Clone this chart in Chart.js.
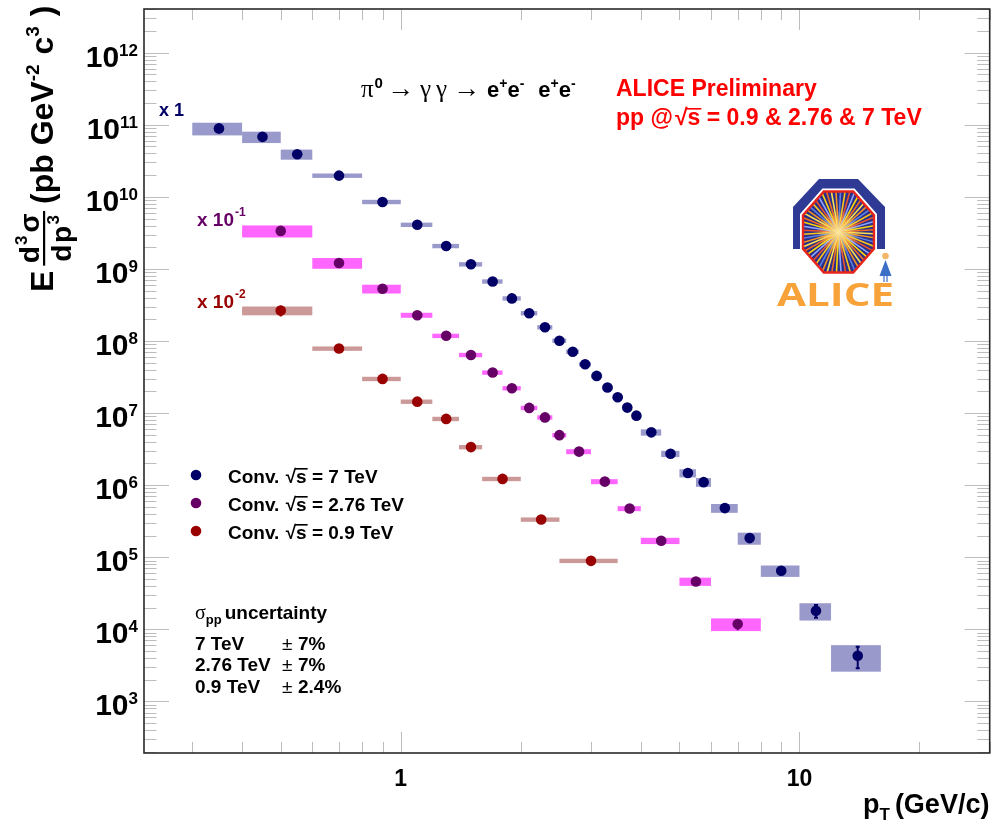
<!DOCTYPE html>
<html><head><meta charset="utf-8">
<script src="https://cdn.jsdelivr.net/npm/chart.js@4.4.1/dist/chart.umd.min.js"></script>
<style>html,body{margin:0;padding:0;background:#fff;}canvas{display:block;}</style>
</head><body>
<canvas id="c" width="995" height="827" style="width:995px;height:827px"></canvas>
<script>
// ---------------- data (values as plotted, i.e. already scaled) ----------------
const xMin = 0.227, xMax = 30, yMin = 192, yMax = 4.04e12;
const yTickExponents = [3,4,5,6,7,8,9,10,11,12];
const xTickValues = [1, 10];
const xTickLabels = ['1', '10'];

// pi0, pp 7 TeV (x 1)
const pt7Lo = [0.3,0.4,0.5,0.6,0.8,1.0,1.2,1.4,1.6,1.8,2.0,2.2,2.4,2.6,2.8,3.0,3.2,3.4,3.6,3.8,4.0,4.5,5.0,5.5,6.0,7.0,8.0,10.0,12.0];
const pt7Hi = [0.4,0.5,0.6,0.8,1.0,1.2,1.4,1.6,1.8,2.0,2.2,2.4,2.6,2.8,3.0,3.2,3.4,3.6,3.8,4.0,4.5,5.0,5.5,6.0,7.0,8.0,10.0,12.0,16.0];
const pt7   = [0.35,0.45,0.55,0.7,0.9,1.1,1.3,1.5,1.7,1.9,2.1,2.3,2.5,2.7,2.9,3.1,3.3,3.5,3.7,3.9,4.25,4.75,5.25,5.75,6.5,7.5,9.0,11.0,14.0];
const xs7   = [8.9e10,6.8e10,3.9e10,1.97e10,8.5e9,4.1e9,2.08e9,1.16e9,6.7e8,3.9e8,2.43e8,1.55e8,1.01e8,7.1e7,4.76e7,3.28e7,2.26e7,1.66e7,1.19e7,9.2e6,5.4e6,2.72e6,1.47e6,1.10e6,4.8e5,1.84e5,6.5e4,1.81e4,4.3e3];
const sys7  = [0.20,0.18,0.16,0.07,0.07,0.07,0.07,0.07,0.07,0.07,0.07,0.07,0.07,0.07,0.07,0.07,0.07,0.07,0.07,0.07,0.10,0.10,0.13,0.14,0.14,0.19,0.18,0.27,0.40];
const stat7 = [0.15,0.10,0.04,0.02,0.02,0.02,0.02,0.02,0.02,0.02,0.02,0.02,0.02,0.02,0.02,0.02,0.02,0.02,0.03,0.03,0.03,0.04,0.05,0.05,0.06,0.07,0.09,0.20,0.33];

// pi0, pp 2.76 TeV (x 10^-1)
const pt276Lo = [0.4,0.6,0.8,1.0,1.2,1.4,1.6,1.8,2.0,2.2,2.4,2.6,3.0,3.5,4.0,5.0,6.0];
const pt276Hi = [0.6,0.8,1.0,1.2,1.4,1.6,1.8,2.0,2.2,2.4,2.6,3.0,3.5,4.0,5.0,6.0,8.0];
const pt276   = [0.5,0.7,0.9,1.1,1.3,1.5,1.7,1.9,2.1,2.3,2.5,2.8,3.25,3.75,4.5,5.5,7.0];
const xs276   = [3.37e9,1.21e9,5.3e8,2.28e8,1.18e8,6.4e7,3.65e7,2.21e7,1.18e7,8.7e6,4.94e6,2.92e6,1.12e6,4.73e5,1.69e5,4.6e4,1.18e4];
const sys276  = [0.19,0.17,0.14,0.08,0.07,0.07,0.07,0.07,0.07,0.07,0.07,0.08,0.08,0.08,0.10,0.13,0.20];
const stat276 = [0.08,0.04,0.03,0.02,0.02,0.02,0.02,0.02,0.03,0.03,0.03,0.03,0.04,0.05,0.06,0.08,0.18];

// pi0, pp 0.9 TeV (x 10^-2)
const pt09Lo = [0.4,0.6,0.8,1.0,1.2,1.4,1.6,2.0,2.5];
const pt09Hi = [0.6,0.8,1.0,1.2,1.4,1.6,2.0,2.5,3.5];
const pt09   = [0.5,0.7,0.9,1.1,1.3,1.5,1.8,2.25,3.0];
const xs09   = [2.64e8,7.85e7,2.98e7,1.44e7,8.3e6,3.37e6,1.22e6,3.33e5,8.9e4];
const sys09  = [0.14,0.07,0.07,0.07,0.07,0.07,0.07,0.07,0.07];
const stat09 = [0.17,0.05,0.04,0.04,0.04,0.05,0.05,0.06,0.08];

const seriesNames  = ['Conv. \u221As = 7 TeV', 'Conv. \u221As = 2.76 TeV', 'Conv. \u221As = 0.9 TeV'];
const markerColors = ['#000066', '#660066', '#990000'];
const boxColors    = ['#9999CC', '#FF66FF', '#CC9999'];

const series = [
  {x: pt7,   y: xs7,   lo: pt7Lo,   hi: pt7Hi,   sys: sys7,   stat: stat7},
  {x: pt276, y: xs276, lo: pt276Lo, hi: pt276Hi, sys: sys276, stat: stat276},
  {x: pt09,  y: xs09,  lo: pt09Lo,  hi: pt09Hi,  sys: sys09,  stat: stat09}
];

// ---------------- helpers ----------------
const SANS = '"Liberation Sans", Arial, Helvetica, sans-serif';
const SERIF = '"Liberation Serif", "DejaVu Serif", serif';
const F = (w, s, fam) => `${w} ${s}px ${fam || SANS}`;

// draws a list of runs: [text, font, dy, extraAdvance, overline]
function runs(ctx, x, y, parts) {
  let cx = x;
  for (const p of parts) {
    ctx.font = p[1];
    ctx.fillText(p[0], cx, y + (p[2] || 0));
    const w = ctx.measureText(p[0]).width;
    if (p[4]) { // overline (sqrt bar)
      ctx.fillRect(cx - 1, y + (p[2] || 0) - p[4], w + 2, 1.6);
    }
    cx += w + (p[3] || 0);
  }
  return cx;
}

const rootPlugin = {
  id: 'rootStyle',
  beforeDatasetsDraw(chart) {
    const ctx = chart.ctx, xs = chart.scales.x, ys = chart.scales.y, a = chart.chartArea;
    ctx.save();
    ctx.beginPath(); ctx.rect(a.left, a.top, a.right - a.left, a.bottom - a.top); ctx.clip();
    // systematic boxes
    series.forEach((s, k) => {
      ctx.fillStyle = boxColors[k];
      s.x.forEach((xv, i) => {
        const x1 = xs.getPixelForValue(s.lo[i]), x2 = xs.getPixelForValue(s.hi[i]);
        const y1 = ys.getPixelForValue(s.y[i] * (1 + s.sys[i])), y2 = ys.getPixelForValue(s.y[i] * (1 - s.sys[i]));
        ctx.fillRect(x1, y1, x2 - x1, y2 - y1);
      });
    });
    // statistical error bars
    series.forEach((s, k) => {
      ctx.strokeStyle = markerColors[k]; ctx.lineWidth = 2;
      s.x.forEach((xv, i) => {
        const px = xs.getPixelForValue(xv);
        const y1 = ys.getPixelForValue(s.y[i] * (1 + s.stat[i])), y2 = ys.getPixelForValue(s.y[i] * (1 - s.stat[i]));
        ctx.beginPath(); ctx.moveTo(px, y1); ctx.lineTo(px, y2); ctx.stroke();
        if (s.stat[i] > 0.19) {
          ctx.beginPath(); ctx.moveTo(px - 2, y1); ctx.lineTo(px + 2, y1); ctx.moveTo(px - 2, y2); ctx.lineTo(px + 2, y2); ctx.stroke();
        }
      });
    });
    ctx.restore();
  },
  afterDraw(chart) {
    const ctx = chart.ctx, xs = chart.scales.x, ys = chart.scales.y, a = chart.chartArea;
    ctx.save();
    // ticks
    ctx.strokeStyle = '#bdbdbd'; ctx.lineWidth = 1;
    ctx.beginPath();
    for (let n = 2; n <= 12; n++) for (let k = 1; k <= 9; k++) {
      const v = k * Math.pow(10, n); if (v < yMin || v > yMax) continue;
      const py = Math.round(ys.getPixelForValue(v)) + 0.5, len = k === 1 ? 25 : 12.5;
      ctx.moveTo(a.left, py); ctx.lineTo(a.left + len, py);
      ctx.moveTo(a.right, py); ctx.lineTo(a.right - len, py);
    }
    for (let n = -1; n <= 1; n++) for (let k = 1; k <= 9; k++) {
      const v = k * Math.pow(10, n); if (v < xMin || v > xMax) continue;
      const px = Math.round(xs.getPixelForValue(v)) + 0.5, len = k === 1 ? 21 : 11;
      ctx.moveTo(px, a.bottom); ctx.lineTo(px, a.bottom - len);
      ctx.moveTo(px, a.top); ctx.lineTo(px, a.top + len);
    }
    ctx.stroke();
    // frame
    ctx.strokeStyle = '#2a2a2a'; ctx.lineWidth = 1.6;
    ctx.strokeRect(a.left, a.top, a.right - a.left, a.bottom - a.top);

    ctx.fillStyle = '#000'; ctx.textBaseline = 'alphabetic';
    // y tick labels
    yTickExponents.forEach(e => {
      const py = ys.getPixelForValue(Math.pow(10, e));
      ctx.font = F('bold', 17); const we = ctx.measureText(String(e)).width;
      ctx.font = F('bold', 30); const wb = ctx.measureText('10').width;
      const right = 138, base = py + 14;
      ctx.textAlign = 'left';
      ctx.fillText('10', right - we - wb, base);
      ctx.font = F('bold', 17); ctx.fillText(String(e), right - we, base - 11);
    });
    // x tick labels
    ctx.font = F('bold', 23); ctx.textAlign = 'center';
    xTickValues.forEach((v, i) => ctx.fillText(xTickLabels[i], xs.getPixelForValue(v), 786));
    ctx.textAlign = 'left';

    // x title
    runs(ctx, 863, 813, [['p', F('bold', 27)], ['T', F('bold', 17), 7, 5], ['(GeV/c)', F('bold', 27)]]);

    // y title (rotated)
    ctx.save();
    ctx.translate(53, 292); ctx.rotate(-Math.PI / 2);
    let u = 0;
    ctx.font = F('bold', 32); ctx.fillText('E', u, 0); u += ctx.measureText('E').width + 5;
    const fN = F('bold', 28), fS = F('bold', 17);
    ctx.font = fN; const wd = ctx.measureText('d').width, wsg = ctx.measureText('\u03C3').width, wp = ctx.measureText('p').width;
    ctx.font = fS; const w3 = ctx.measureText('3').width;
    const numW = wd + w3 + wsg + 4, denW = wd + wp + w3 + 3, fw = Math.max(numW, denW) + 5;
    runs(ctx, u + (fw - numW) / 2, -14, [['d', fN, 0, 1], ['3', fS, -12, 3], ['\u03C3', fN]]);
    runs(ctx, u + (fw - denW) / 2, 18, [['d', fN, 0, 1.5], ['p', fN, 0, 1.5], ['3', fS, -12]]);
    ctx.fillRect(u, -10, fw, 2.2);
    u += fw + 7;
    runs(ctx, u, 0, [['(pb GeV', F('bold', 32)], ['-2', F('bold', 19), -14, 1], [' c', F('bold', 32)], ['3', F('bold', 19), -14, 1], [' )', F('bold', 32)]]);
    ctx.restore();

    // scale factor labels
    ctx.fillStyle = '#000066'; runs(ctx, 159, 116, [['x 1', F('bold', 18)]]);
    ctx.fillStyle = '#660066'; runs(ctx, 197, 226, [['x 10', F('bold', 19), 0, 1], ['-1', F('bold', 12), -10]]);
    ctx.fillStyle = '#990000'; runs(ctx, 197, 308, [['x 10', F('bold', 19), 0, 1], ['-2', F('bold', 12), -10]]);

    // decay channel
    ctx.fillStyle = '#000';
    runs(ctx, 361, 97, [
      ['\u03C0', F('normal', 25, SERIF), 0, 1], ['0', F('bold', 15), -9, 4],
      ['\u2192', F('normal', 27, SERIF), 0, 6], ['\u03B3', F('normal', 25, SERIF), 0, 5], ['\u03B3', F('normal', 25, SERIF), 0, 6],
      ['\u2192', F('normal', 27, SERIF), 0, 7],
      ['e', F('bold', 22)], ['+', F('bold', 14), -9], ['e', F('bold', 22)], ['-', F('bold', 14), -9, 14],
      ['e', F('bold', 22)], ['+', F('bold', 14), -9], ['e', F('bold', 22)], ['-', F('bold', 14), -9]
    ]);
    // ALICE preliminary
    ctx.fillStyle = '#FF0000';
    runs(ctx, 616, 96, [['ALICE Preliminary', F('bold', 23)]]);
    runs(ctx, 616, 125, [['pp @', F('bold', 23), 0, 2], ['\u221A', F('bold', 23), 0, 0], ['s', F('bold', 23), 0, 0, 17], [' = 0.9 & 2.76 & 7 TeV', F('bold', 23)]]);

    // legend
    const legY = [475, 503, 531];
    series.forEach((s, k) => {
      ctx.fillStyle = markerColors[k];
      ctx.beginPath(); ctx.arc(196, legY[k], 5.3, 0, 2 * Math.PI); ctx.fill();
      ctx.fillStyle = '#000';
      const parts = seriesNames[k].split('\u221As');
      runs(ctx, 228, legY[k] + 8, [[parts[0], F('bold', 19), 0, 1], ['\u221A', F('bold', 19)], ['s', F('bold', 19), 0, 0, 15], [parts[1], F('bold', 19)]]);
    });

    // sigma_pp uncertainty
    ctx.fillStyle = '#000';
    runs(ctx, 195, 619, [['\u03C3', F('normal', 20, SERIF)], ['pp', F('bold', 13), 5, 3], ['uncertainty', F('bold', 19)]]);
    const uncLabels = ['7 TeV', '2.76 TeV', '0.9 TeV'], uncVals = ['7%', '7%', '2.4%'], uncY = [650, 671, 693];
    uncLabels.forEach((t, i) => {
      runs(ctx, 195, uncY[i], [[t, F('bold', 19)]]);
      runs(ctx, 282, uncY[i], [['\u00B1', F('normal', 19)]]);
      runs(ctx, 298, uncY[i], [[uncVals[i], F('bold', 19)]]);
    });

    drawLogo(ctx);
    ctx.restore();
  }
};

function drawLogo(ctx) {
  ctx.save();
  // outer navy frame
  ctx.fillStyle = '#2E3A94';
  ctx.beginPath();
  ctx.moveTo(793, 249); ctx.lineTo(793, 207); ctx.lineTo(819, 179); ctx.lineTo(858, 179);
  ctx.lineTo(885, 207); ctx.lineTo(885, 249); ctx.closePath(); ctx.fill();
  // octagon
  const cx = 838.5, cy = 232, c = Math.cos(Math.PI / 8), Rx = 35.5 / c, Ry = 40.5 / c;
  const oct = () => {
    ctx.beginPath();
    for (let k = 0; k < 8; k++) {
      const ang = Math.PI / 8 + k * Math.PI / 4;
      const px = cx + Rx * Math.cos(ang), py = cy + Ry * Math.sin(ang);
      k ? ctx.lineTo(px, py) : ctx.moveTo(px, py);
    }
    ctx.closePath();
  };
  oct(); ctx.strokeStyle = '#ffffff'; ctx.lineWidth = 6; ctx.stroke();
  oct(); ctx.fillStyle = '#2a2f8a'; ctx.fill();
  ctx.save(); oct(); ctx.clip();
  const rayCols = ['#FFE14D', '#F7941D', '#5B7FE0', '#FFC61A', '#E9532B', '#8FA8FF', '#FFD700', '#F26B21'];
  for (let i = 0; i < 56; i++) {
    const ang = i * 2 * Math.PI / 56 + 0.05;
    ctx.strokeStyle = rayCols[i % rayCols.length]; ctx.lineWidth = 1.6;
    ctx.beginPath(); ctx.moveTo(cx, cy); ctx.lineTo(cx + 60 * Math.cos(ang), cy + 60 * Math.sin(ang)); ctx.stroke();
  }
  const g = ctx.createRadialGradient(cx, cy, 0, cx, cy, 22);
  g.addColorStop(0, 'rgba(255,240,170,0.95)'); g.addColorStop(1, 'rgba(255,200,80,0)');
  ctx.fillStyle = g; ctx.fillRect(cx - 40, cy - 45, 80, 90);
  ctx.restore();
  oct(); ctx.strokeStyle = '#E8231B'; ctx.lineWidth = 2.4; ctx.stroke();
  // ALICE word
  ctx.fillStyle = '#F8A23A';
  ctx.font = '700 33px "Open Sans", Lato, sans-serif';
  const w = ctx.measureText('ALICE').width;
  ctx.save(); ctx.translate(777, 306); ctx.scale(117 / w, 1); ctx.fillText('ALICE', 0, 0); ctx.restore();
  // little figure on the E
  ctx.fillStyle = '#F2B766'; ctx.beginPath(); ctx.arc(885.5, 256, 3.3, 0, 2 * Math.PI); ctx.fill();
  ctx.fillStyle = '#3C6FC7'; ctx.beginPath(); ctx.moveTo(885.5, 260); ctx.lineTo(891.5, 276); ctx.lineTo(879.5, 276); ctx.closePath(); ctx.fill();
  ctx.strokeStyle = '#3C6FC7'; ctx.lineWidth = 1.2;
  ctx.beginPath(); ctx.moveTo(884, 276); ctx.lineTo(884, 282); ctx.moveTo(887, 276); ctx.lineTo(887, 282); ctx.stroke();
  ctx.restore();
}

new Chart(document.getElementById('c'), {
  type: 'scatter',
  data: {
    datasets: series.map((s, k) => ({
      label: seriesNames[k],
      data: s.x.map((xv, i) => ({x: xv, y: s.y[i]})),
      backgroundColor: markerColors[k],
      borderColor: markerColors[k],
      borderWidth: 0,
      pointRadius: 5.3,
      pointHoverRadius: 5.3,
      pointStyle: 'circle',
      showLine: false
    }))
  },
  options: {
    responsive: false,
    animation: false,
    devicePixelRatio: 1,
    layout: {padding: {left: 144, right: 2, top: 9, bottom: 74}},
    scales: {
      x: {type: 'logarithmic', min: xMin, max: xMax, display: false},
      y: {type: 'logarithmic', min: yMin, max: yMax, display: false}
    },
    plugins: {legend: {display: false}, tooltip: {enabled: false}, title: {display: false}}
  },
  plugins: [rootPlugin]
});
</script>
</body></html>
